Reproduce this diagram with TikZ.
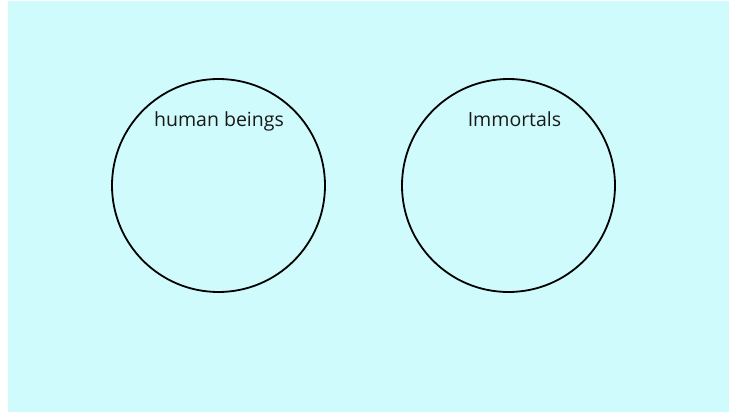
\documentclass[tikz,border=0pt]{standalone}
\usepackage{fontspec}
\setmainfont{Open Sans}
\definecolor{bgcyan}{RGB}{207,251,252}
\definecolor{txt}{RGB}{25,25,25}
\tikzset{
  setcircle/.style={draw=black, line width=1.8pt, circle, minimum size=213pt, inner sep=0pt},
  setlabel/.style={font=\fontsize{19.5}{23}\selectfont, text=txt, inner sep=0pt, anchor=base}
}
\begin{document}
\begin{tikzpicture}[x=1pt,y=-1pt]
\useasboundingbox (0,0) rectangle (729,412);
\fill[white] (0,0) rectangle (729,412);
\fill[bgcyan] (8,1) rectangle (729,412);
\node[setcircle] (human) at (218.5,185.5) {};
\node[setcircle] (immortal) at (508.5,185.5) {};
\node[setlabel] (humanlbl) at (219,126) {human beings};
\node[setlabel] (immortallbl) at (514.5,126) {Immortals};
\end{tikzpicture}
\end{document}
